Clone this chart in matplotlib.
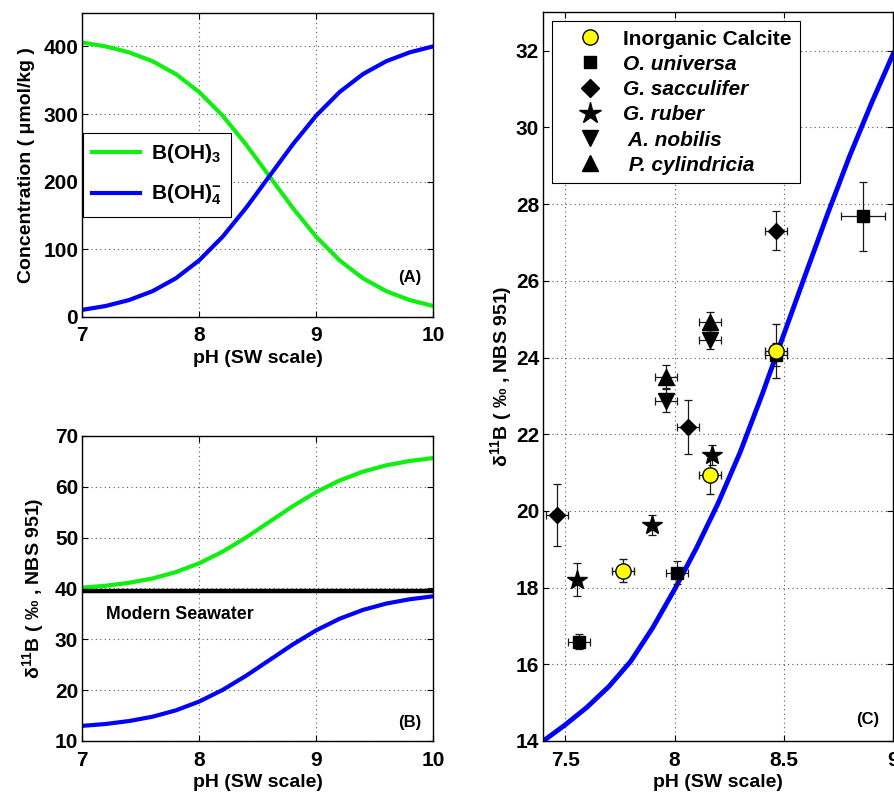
import matplotlib
matplotlib.use('Agg')
import matplotlib.pyplot as plt

plt.rcParams['font.family'] = ['Liberation Sans', 'DejaVu Sans']
plt.rcParams['font.weight'] = 'bold'
plt.rcParams['axes.labelweight'] = 'bold'
plt.rcParams['mathtext.default'] = 'regular'
plt.rcParams['xtick.direction'] = 'in'
plt.rcParams['ytick.direction'] = 'in'

# ---- panel A / B: speciation curves ----
ph_ab = [7.0, 7.2, 7.4, 7.6, 7.8, 8.0, 8.2, 8.4, 8.6, 8.8, 9.0, 9.2, 9.4, 9.6, 9.8, 10.0]
conc_boh3 = [405.8, 400.1, 391.3, 378.2, 359.1, 332.5, 297.6, 255.0, 208.0,
             161.0, 118.4, 83.5, 56.9, 37.8, 24.7, 15.9]
conc_boh4 = [10.2, 15.9, 24.7, 37.8, 56.9, 83.5, 118.4, 161.0, 208.0,
             255.0, 297.6, 332.5, 359.1, 378.2, 391.3, 400.1]
d11b_boh3 = [40.17, 40.54, 41.12, 41.97, 43.22, 44.96, 47.24, 50.02, 53.1,
             56.18, 58.96, 61.24, 62.98, 64.23, 65.08, 65.66]
d11b_boh4 = [12.97, 13.34, 13.92, 14.77, 16.02, 17.76, 20.04, 22.82, 25.9,
             28.98, 31.76, 34.04, 35.78, 37.03, 37.88, 38.46]
d11b_seawater = 39.6

# ---- panel C: borate curve and calibration data ----
ph_c = [7.4, 7.5, 7.6, 7.7, 7.8, 7.9, 8.0, 8.1, 8.2, 8.3, 8.4, 8.5, 8.6, 8.7, 8.8, 8.9, 9.0]
d11b_c = [14.0, 14.42, 14.88, 15.42, 16.08, 16.95, 17.95, 19.03, 20.21, 21.53,
          23.03, 24.61, 26.19, 27.75, 29.25, 30.63, 31.93]

calc_ph = [7.763, 8.162, 8.463]
calc_d = [18.44, 20.94, 24.17]
calc_dy = [0.3, 0.5, 0.7]
calc_dx = [0.05, 0.05, 0.05]

univ_ph = [7.563, 8.01, 8.463, 8.863]
univ_d = [16.59, 18.39, 24.07, 27.69]
univ_dy = [0.2, 0.3, 0.3, 0.9]
univ_dx = [0.05, 0.05, 0.05, 0.1]

sacc_ph = [7.461, 8.063, 8.463]
sacc_d = [19.89, 22.18, 27.31]
sacc_dy = [0.8, 0.7, 0.5]
sacc_dx = [0.05, 0.05, 0.05]

rub_ph = [7.555, 7.896, 8.173]
rub_d = [18.2, 19.63, 21.46]
rub_dy = [0.43, 0.26, 0.25]

nob_ph = [7.96, 8.162]
nob_d = [22.87, 24.46]
nob_dy = [0.3, 0.25]
nob_dx = [0.05, 0.05]

cyl_ph = [7.96, 8.162]
cyl_d = [23.5, 24.93]
cyl_dy = [0.3, 0.27]
cyl_dx = [0.05, 0.05]

green = '#11ee11'
blue = '#0000ff'
d11b_label = 'δ$^{11}$B ( ‰ , NBS 951)'


def style(ax):
    ax.tick_params(top=True, right=True, labelsize=15, length=4, width=0.8)
    ax.tick_params(axis='x', pad=7)
    ax.tick_params(axis='y', pad=3)
    ax.grid(True, linestyle=(0, (1, 3)), color='0.35', linewidth=0.8)
    for s in ax.spines.values():
        s.set_linewidth(1.0)


fig = plt.figure(figsize=(8.94, 7.94), dpi=100)
ax_a = fig.add_axes([0.0921, 0.6011, 0.3923, 0.3829])
ax_b = fig.add_axes([0.0921, 0.0668, 0.3923, 0.3841])
ax_c = fig.add_axes([0.6077, 0.0668, 0.3915, 0.9175])

# (A)
ax_a.plot(ph_ab, conc_boh3, color=green, lw=3, label='B(OH)$_3$')
ax_a.plot(ph_ab, conc_boh4, color=blue, lw=3, label='B(OH)$_4^{-}$')
ax_a.set_xlim(7, 10)
ax_a.set_ylim(0, 450)
ax_a.set_xticks([7, 8, 9, 10])
ax_a.set_yticks([0, 100, 200, 300, 400])
ax_a.set_xlabel('pH (SW scale)', fontsize=14, labelpad=3)
ax_a.set_ylabel('Concentration ( μmol/kg )', fontsize=14, labelpad=6)
ax_a.text(9.8, 58, '(A)', fontsize=12, ha='center', va='center')
style(ax_a)
leg = ax_a.legend(loc='upper left', bbox_to_anchor=(0.002, 0.605), fontsize=15,
                  handlelength=2.3, handletextpad=0.5, fancybox=False,
                  edgecolor='black', framealpha=1, borderpad=0.45,
                  labelspacing=0.85, borderaxespad=0)
leg.get_frame().set_linewidth(0.8)

# (B)
ax_b.plot(ph_ab, d11b_boh3, color=green, lw=3)
ax_b.plot(ph_ab, d11b_boh4, color=blue, lw=3)
ax_b.axhline(d11b_seawater, color='black', lw=3.2)
ax_b.set_xlim(7, 10)
ax_b.set_ylim(10, 70)
ax_b.set_xticks([7, 8, 9, 10])
ax_b.set_yticks([10, 20, 30, 40, 50, 60, 70])
ax_b.set_xlabel('pH (SW scale)', fontsize=14, labelpad=3)
ax_b.set_ylabel(d11b_label, fontsize=14, labelpad=6)
ax_b.text(7.2, 34.8, 'Modern Seawater', fontsize=12.8, ha='left', va='center')
ax_b.text(9.8, 13.7, '(B)', fontsize=12, ha='center', va='center')
style(ax_b)

# (C)
ax_c.plot(ph_c, d11b_c, color=blue, lw=3.5, zorder=2)
eb = dict(color='black', ecolor='0.1', elinewidth=0.9, capsize=3, capthick=0.9,
          linestyle='none', zorder=3)
ax_c.errorbar(univ_ph, univ_d, yerr=univ_dy, xerr=univ_dx, marker='s', ms=9,
              mfc='black', mec='black', **eb)
ax_c.errorbar(calc_ph, calc_d, yerr=calc_dy, xerr=calc_dx, marker='o', ms=11,
              mfc='yellow', mec='black', mew=1.0, **eb)
ax_c.errorbar(sacc_ph, sacc_d, yerr=sacc_dy, xerr=sacc_dx, marker='D', ms=8.5,
              mfc='black', mec='black', **eb)
ax_c.errorbar(rub_ph, rub_d, yerr=rub_dy, marker='*', ms=15,
              mfc='black', mec='black', **eb)
ax_c.errorbar(nob_ph, nob_d, yerr=nob_dy, xerr=nob_dx, marker='v', ms=11,
              mfc='black', mec='black', **eb)
ax_c.errorbar(cyl_ph, cyl_d, yerr=cyl_dy, xerr=cyl_dx, marker='^', ms=11,
              mfc='black', mec='black', **eb)

# legend handles (markers only)
h_calc, = ax_c.plot([], [], 'o', ms=11, mfc='yellow', mec='black')
h_univ, = ax_c.plot([], [], 's', ms=9, color='black')
h_sacc, = ax_c.plot([], [], 'D', ms=9, color='black')
h_rub, = ax_c.plot([], [], '*', ms=16, color='black')
h_nob, = ax_c.plot([], [], 'v', ms=12, color='black')
h_cyl, = ax_c.plot([], [], '^', ms=12, color='black')
leg_c = ax_c.legend([h_calc, h_univ, h_sacc, h_rub, h_nob, h_cyl],
                    ['Inorganic Calcite', 'O. universa', 'G. sacculifer',
                     'G. ruber', ' A. nobilis', ' P. cylindricia'],
                    loc='upper left', bbox_to_anchor=(0.026, 0.988), fontsize=15,
                    handlelength=2.8, handletextpad=0.2, fancybox=False,
                    edgecolor='black', framealpha=1, borderpad=0.4,
                    labelspacing=0.3, borderaxespad=0)
leg_c.get_frame().set_linewidth(0.8)
for t in leg_c.get_texts()[1:]:
    t.set_style('italic')

ax_c.set_xlim(7.4, 9.0)
ax_c.set_ylim(14, 33)
ax_c.set_xticks([7.5, 8, 8.5, 9])
ax_c.set_xticklabels(['7.5', '8', '8.5', '9'])
ax_c.set_yticks(list(range(14, 33, 2)))
ax_c.set_xlabel('pH (SW scale)', fontsize=14, labelpad=3)
ax_c.set_ylabel(d11b_label, fontsize=14, labelpad=1)
ax_c.text(8.883, 14.55, '(C)', fontsize=12, ha='center', va='center')
style(ax_c)

fig.savefig('out.png', dpi=100)
